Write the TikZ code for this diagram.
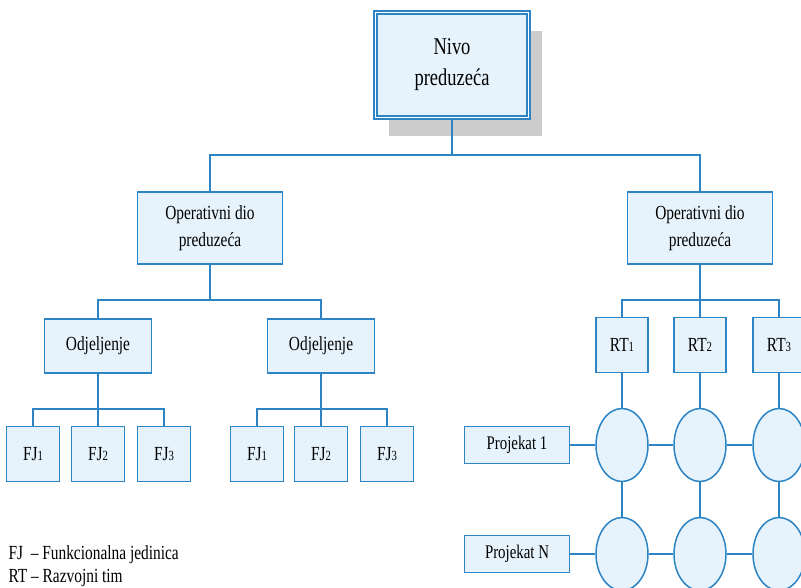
\documentclass[tikz,border=0pt]{standalone}
\usepackage{fontspec}
\setmainfont[FakeStretch=0.77]{Liberation Serif}
\usetikzlibrary{shapes.geometric,shadows}
\definecolor{orgblue}{RGB}{44,132,196}
\definecolor{orgfill}{RGB}{231,243,252}
\newcommand\sub[1]{{\fontsize{14}{14}\selectfont #1}}
\tikzset{my box/.style={draw=orgblue, fill=orgfill, line width=1.5pt, align=center, inner sep=0pt, font=\fontsize{20}{27}\selectfont},
  my top/.style={my box, double=white, double distance=1.6pt, line width=1.3pt, minimum width=153pt, minimum height=105pt, font=\fontsize{24}{31}\selectfont,
    drop shadow={shadow xshift=13pt, shadow yshift=-18pt, fill=black!20, opacity=1}},
  my cell/.style={my box, ellipse, minimum width=52pt, minimum height=73pt},
  my link/.style={draw=orgblue, line width=1.5pt},}

\begin{document}
\begin{tikzpicture}[x=1pt,y=-1pt]
\useasboundingbox (0,0) rectangle (801,587);
\clip (0,0) rectangle (801,587);
% top level
\node [my top] (top) at (452,65) {Nivo\\preduzeća};
\node [my box,minimum width=145pt,minimum height=72pt] (op1) at (210,228) {Operativni dio\\preduzeća};
\node [my box,minimum width=145pt,minimum height=72pt] (op2) at (700,228) {Operativni dio\\preduzeća};
% functional side
\node [my box,minimum width=107pt,minimum height=54pt] (od1) at (98,346) {Odjeljenje};
\node [my box,minimum width=107pt,minimum height=54pt] (od2) at (321,346) {Odjeljenje};
\node [my box,minimum width=53pt,minimum height=55pt] (fj1) at (33,454) {FJ\sub{1}};
\node [my box,minimum width=53pt,minimum height=55pt] (fj2) at (98,454) {FJ\sub{2}};
\node [my box,minimum width=53pt,minimum height=55pt] (fj3) at (164,454) {FJ\sub{3}};
\node [my box,minimum width=53pt,minimum height=55pt] (fj4) at (257,454) {FJ\sub{1}};
\node [my box,minimum width=53pt,minimum height=55pt] (fj5) at (321,454) {FJ\sub{2}};
\node [my box,minimum width=53pt,minimum height=55pt] (fj6) at (387,454) {FJ\sub{3}};
% project side
\node [my box,minimum width=52pt,minimum height=55pt] (rt1) at (622,345) {RT\sub{1}};
\node [my box,minimum width=52pt,minimum height=55pt] (rt2) at (700,345) {RT\sub{2}};
\node [my box,minimum width=52pt,minimum height=55pt] (rt3) at (779,345) {RT\sub{3}};
\node [my box,minimum width=105pt,minimum height=37pt,font=\fontsize{19.3}{22}\selectfont] (pr1) at (517,445) {Projekat 1};
\node [my box,minimum width=105pt,minimum height=37pt,font=\fontsize{19.3}{22}\selectfont] (prn) at (517,554) {Projekat N};
\node [my cell] (c11) at (622,445) {};
\node [my cell] (c12) at (700,445) {};
\node [my cell] (c13) at (779,445) {};
\node [my cell] (c21) at (622,554) {};
\node [my cell] (c22) at (700,554) {};
\node [my cell] (c23) at (779,554) {};
% legend
\node [anchor=west,font=\fontsize{20}{23}\selectfont] (leg1) at (5,555) {FJ\ \ – Funkcionalna jedinica};
\node [anchor=west,font=\fontsize{20}{23}\selectfont] (leg2) at (5,578) {RT – Razvojni tim};
% connectors
\coordinate (bus0) at (452,155);
\coordinate (bus1) at (210,300);
\coordinate (bus2) at (98,409);
\coordinate (bus3) at (321,409);
\coordinate (bus4) at (700,300);
\draw [my link] (top.south) -- (bus0);
\draw [my link] (op1.north) |- (bus0) -| (op2.north);
\draw [my link] (op1.south) -- (bus1);
\draw [my link] (od1.north) |- (bus1) -| (od2.north);
\draw [my link] (od1.south) -- (fj2.north);
\draw [my link] (fj1.north) |- (bus2) -| (fj3.north);
\draw [my link] (od2.south) -- (fj5.north);
\draw [my link] (fj4.north) |- (bus3) -| (fj6.north);
\draw [my link] (op2.south) -- (rt2.north);
\draw [my link] (rt1.north) |- (bus4) -| (rt3.north);
\draw [my link] (rt1.south) -- (c11.north);
\draw [my link] (rt2.south) -- (c12.north);
\draw [my link] (rt3.south) -- (c13.north);
\draw [my link] (c11.south) -- (c21.north);
\draw [my link] (c12.south) -- (c22.north);
\draw [my link] (c13.south) -- (c23.north);
\draw [my link] (pr1.east) -- (c11.west);
\draw [my link] (c11.east) -- (c12.west);
\draw [my link] (c12.east) -- (c13.west);
\draw [my link] (prn.east) -- (c21.west);
\draw [my link] (c21.east) -- (c22.west);
\draw [my link] (c22.east) -- (c23.west);
\end{tikzpicture}
\end{document}
